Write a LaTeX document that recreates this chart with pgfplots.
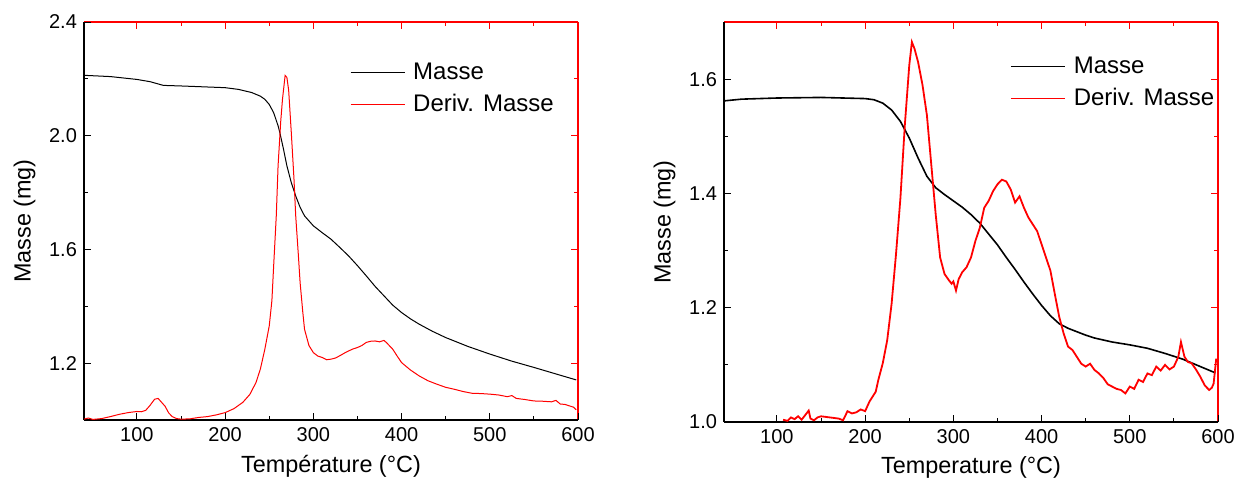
\documentclass[border=0pt]{standalone}
\usepackage{fontspec}
\setmainfont{Liberation Sans}
\usepackage{pgfplots}
\pgfplotsset{compat=1.18}

\pgfplotstableread{
T M
40 2.2125
70 2.208
100 2.198
115 2.190
130 2.177
150 2.175
200 2.169
215 2.163
230 2.152
240 2.139
245 2.128
250 2.110
255 2.081
260 2.035
262 2.011
266 1.955
270 1.894
275 1.835
280 1.788
285 1.748
290 1.718
300 1.683
310 1.659
320 1.636
330 1.607
340 1.577
350 1.543
360 1.507
370 1.470
380 1.437
390 1.404
400 1.378
410 1.356
420 1.337
435 1.312
450 1.290
475 1.259
500 1.232
525 1.207
550 1.185
575 1.162
598 1.141
}\leftmass

\pgfplotstableread{
T D
40 1.003
45 1.007
50 1.002
60 1.005
70 1.012
80 1.020
90 1.026
100 1.030
105 1.029
110 1.034
115 1.052
120 1.073
124 1.076
128 1.062
132 1.048
136 1.025
140 1.012
145 1.005
150 1.003
160 1.004
170 1.009
180 1.012
190 1.018
200 1.026
210 1.040
220 1.062
228 1.090
235 1.132
240 1.180
245 1.249
250 1.331
253 1.420
255 1.542
258 1.720
260 1.894
263 2.050
265 2.128
268 2.212
270 2.205
272 2.160
275 2.011
278 1.850
280 1.718
283 1.580
285 1.483
288 1.380
290 1.319
295 1.262
300 1.237
305 1.225
310 1.220
315 1.212
320 1.214
325 1.218
330 1.226
335 1.235
340 1.243
345 1.250
350 1.255
355 1.262
360 1.273
365 1.277
370 1.278
375 1.275
380 1.280
383 1.272
386 1.262
390 1.249
395 1.225
400 1.202
410 1.176
420 1.155
430 1.138
440 1.126
450 1.115
460 1.108
470 1.100
480 1.094
490 1.093
500 1.091
510 1.088
520 1.082
525 1.086
530 1.076
540 1.072
550 1.067
560 1.066
570 1.064
575 1.069
580 1.056
585 1.055
590 1.050
595 1.045
598 1.036
}\leftderiv

\pgfplotstableread{
T M
40 1.562
60 1.565
100 1.567
150 1.568
200 1.566
210 1.564
220 1.558
230 1.546
240 1.526
250 1.497
260 1.462
270 1.430
280 1.410
290 1.398
300 1.387
310 1.376
320 1.363
330 1.348
340 1.329
350 1.310
360 1.288
370 1.267
380 1.245
390 1.224
400 1.204
410 1.186
420 1.172
430 1.164
440 1.158
450 1.152
460 1.147
480 1.140
500 1.135
520 1.129
540 1.120
560 1.110
580 1.097
597 1.086
}\rightmass

\pgfplotstableread{
T D
107 1.004
112 1.002
116 1.008
120 1.005
124 1.010
128 1.004
132 1.012
136 1.020
138 1.006
142 1.003
146 1.008
150 1.010
160 1.008
170 1.006
175 1.003
180 1.019
185 1.015
190 1.017
195 1.022
200 1.019
205 1.036
212 1.053
215 1.074
220 1.103
225 1.143
230 1.207
235 1.294
240 1.392
245 1.520
250 1.624
253 1.665
256 1.653
260 1.630
265 1.590
270 1.537
275 1.450
280 1.363
285 1.288
290 1.259
295 1.248
298 1.242
300 1.246
303 1.230
306 1.250
310 1.262
315 1.271
320 1.288
325 1.317
330 1.340
335 1.375
340 1.387
345 1.404
350 1.416
355 1.424
360 1.421
365 1.407
370 1.384
375 1.395
380 1.375
385 1.358
390 1.346
395 1.334
400 1.311
405 1.288
410 1.265
415 1.224
420 1.184
425 1.155
430 1.132
435 1.126
440 1.114
445 1.102
450 1.097
455 1.102
460 1.091
465 1.085
470 1.077
475 1.066
480 1.062
485 1.058
490 1.056
495 1.050
500 1.062
505 1.058
510 1.074
515 1.070
520 1.085
525 1.082
530 1.097
535 1.090
540 1.100
545 1.092
550 1.097
555 1.114
558 1.140
562 1.114
566 1.105
570 1.103
575 1.092
580 1.079
585 1.064
590 1.056
593 1.060
595 1.067
598 1.111
}\rightderiv

\pgfplotsset{
  base/.style={
    scale only axis, width=247pt, height=199pt,
    xmin=40, xmax=600,
    tick align=inside,
    /pgf/number format/assume math mode=true,
    ticklabel style={font=\fontsize{10}{12}\selectfont},
    label style={font=\fontsize{11.7}{14}\selectfont},
    xtick={100,200,...,600},
    minor x tick num=1,
    minor y tick num=1,
    major tick length=3.5pt, minor tick length=2pt,
  },
  blackaxis/.style={base,
    axis x line*=bottom, axis y line*=left,
    axis line style={black, line width=0.6pt},
    tick style={black, line width=0.5pt},
    yticklabel style={/pgf/number format/.cd, fixed, fixed zerofill, precision=1},
    legend style={draw=none, fill=none, font=\fontsize{12}{14}\selectfont, row sep=2pt,
      legend cell align=left},
    legend image code/.code={\draw[##1] (0pt,0pt) -- (27pt,0pt); \path (29pt,0pt);},
  },
  redaxis/.style={base,
    axis x line*=top, axis y line*=right,
    axis line style={red, line width=0.6pt},
    tick style={red, line width=0.5pt},
    xticklabels={}, yticklabels={},
  },
}

\begin{document}
\begin{tikzpicture}
\path[use as bounding box] (-42pt,-34.5pt) rectangle (576.5pt,210pt);
% left panel
\begin{axis}[redaxis, ymin=1.0, ymax=2.4, ytick={1.2,1.6,2.0,2.4}]
\end{axis}
\begin{axis}[blackaxis, ymin=1.0, ymax=2.4, ytick={1.2,1.6,2.0,2.4},
  xlabel={Température (°C)}, ylabel={Masse (mg)},
  legend style={at={(0.526,0.918)}, anchor=north west}]
\addplot[black, line width=0.5pt] table[x=T,y=M] {\leftmass};
\addlegendentry{Masse}
\addplot[red, line width=0.5pt] table[x=T,y=D] {\leftderiv};
\addlegendentry{Deriv. Masse}
\end{axis}
% right panel
\begin{axis}[redaxis, at={(320pt,-1pt)}, height=200pt, ymin=1.0, ymax=1.7, ytick={1.0,1.2,1.4,1.6}]
\end{axis}
\begin{axis}[blackaxis, at={(320pt,-1pt)}, height=200pt, ymin=1.0, ymax=1.7, ytick={1.0,1.2,1.4,1.6},
  xlabel={Temperature (°C)}, ylabel={Masse (mg)},
  legend style={at={(0.566,0.934)}, anchor=north west}]
\addplot[black, line width=0.8pt] table[x=T,y=M] {\rightmass};
\addlegendentry{Masse}
\addplot[red, line width=0.9pt] table[x=T,y=D] {\rightderiv};
\addlegendentry{Deriv. Masse}
\end{axis}
\end{tikzpicture}
\end{document}
